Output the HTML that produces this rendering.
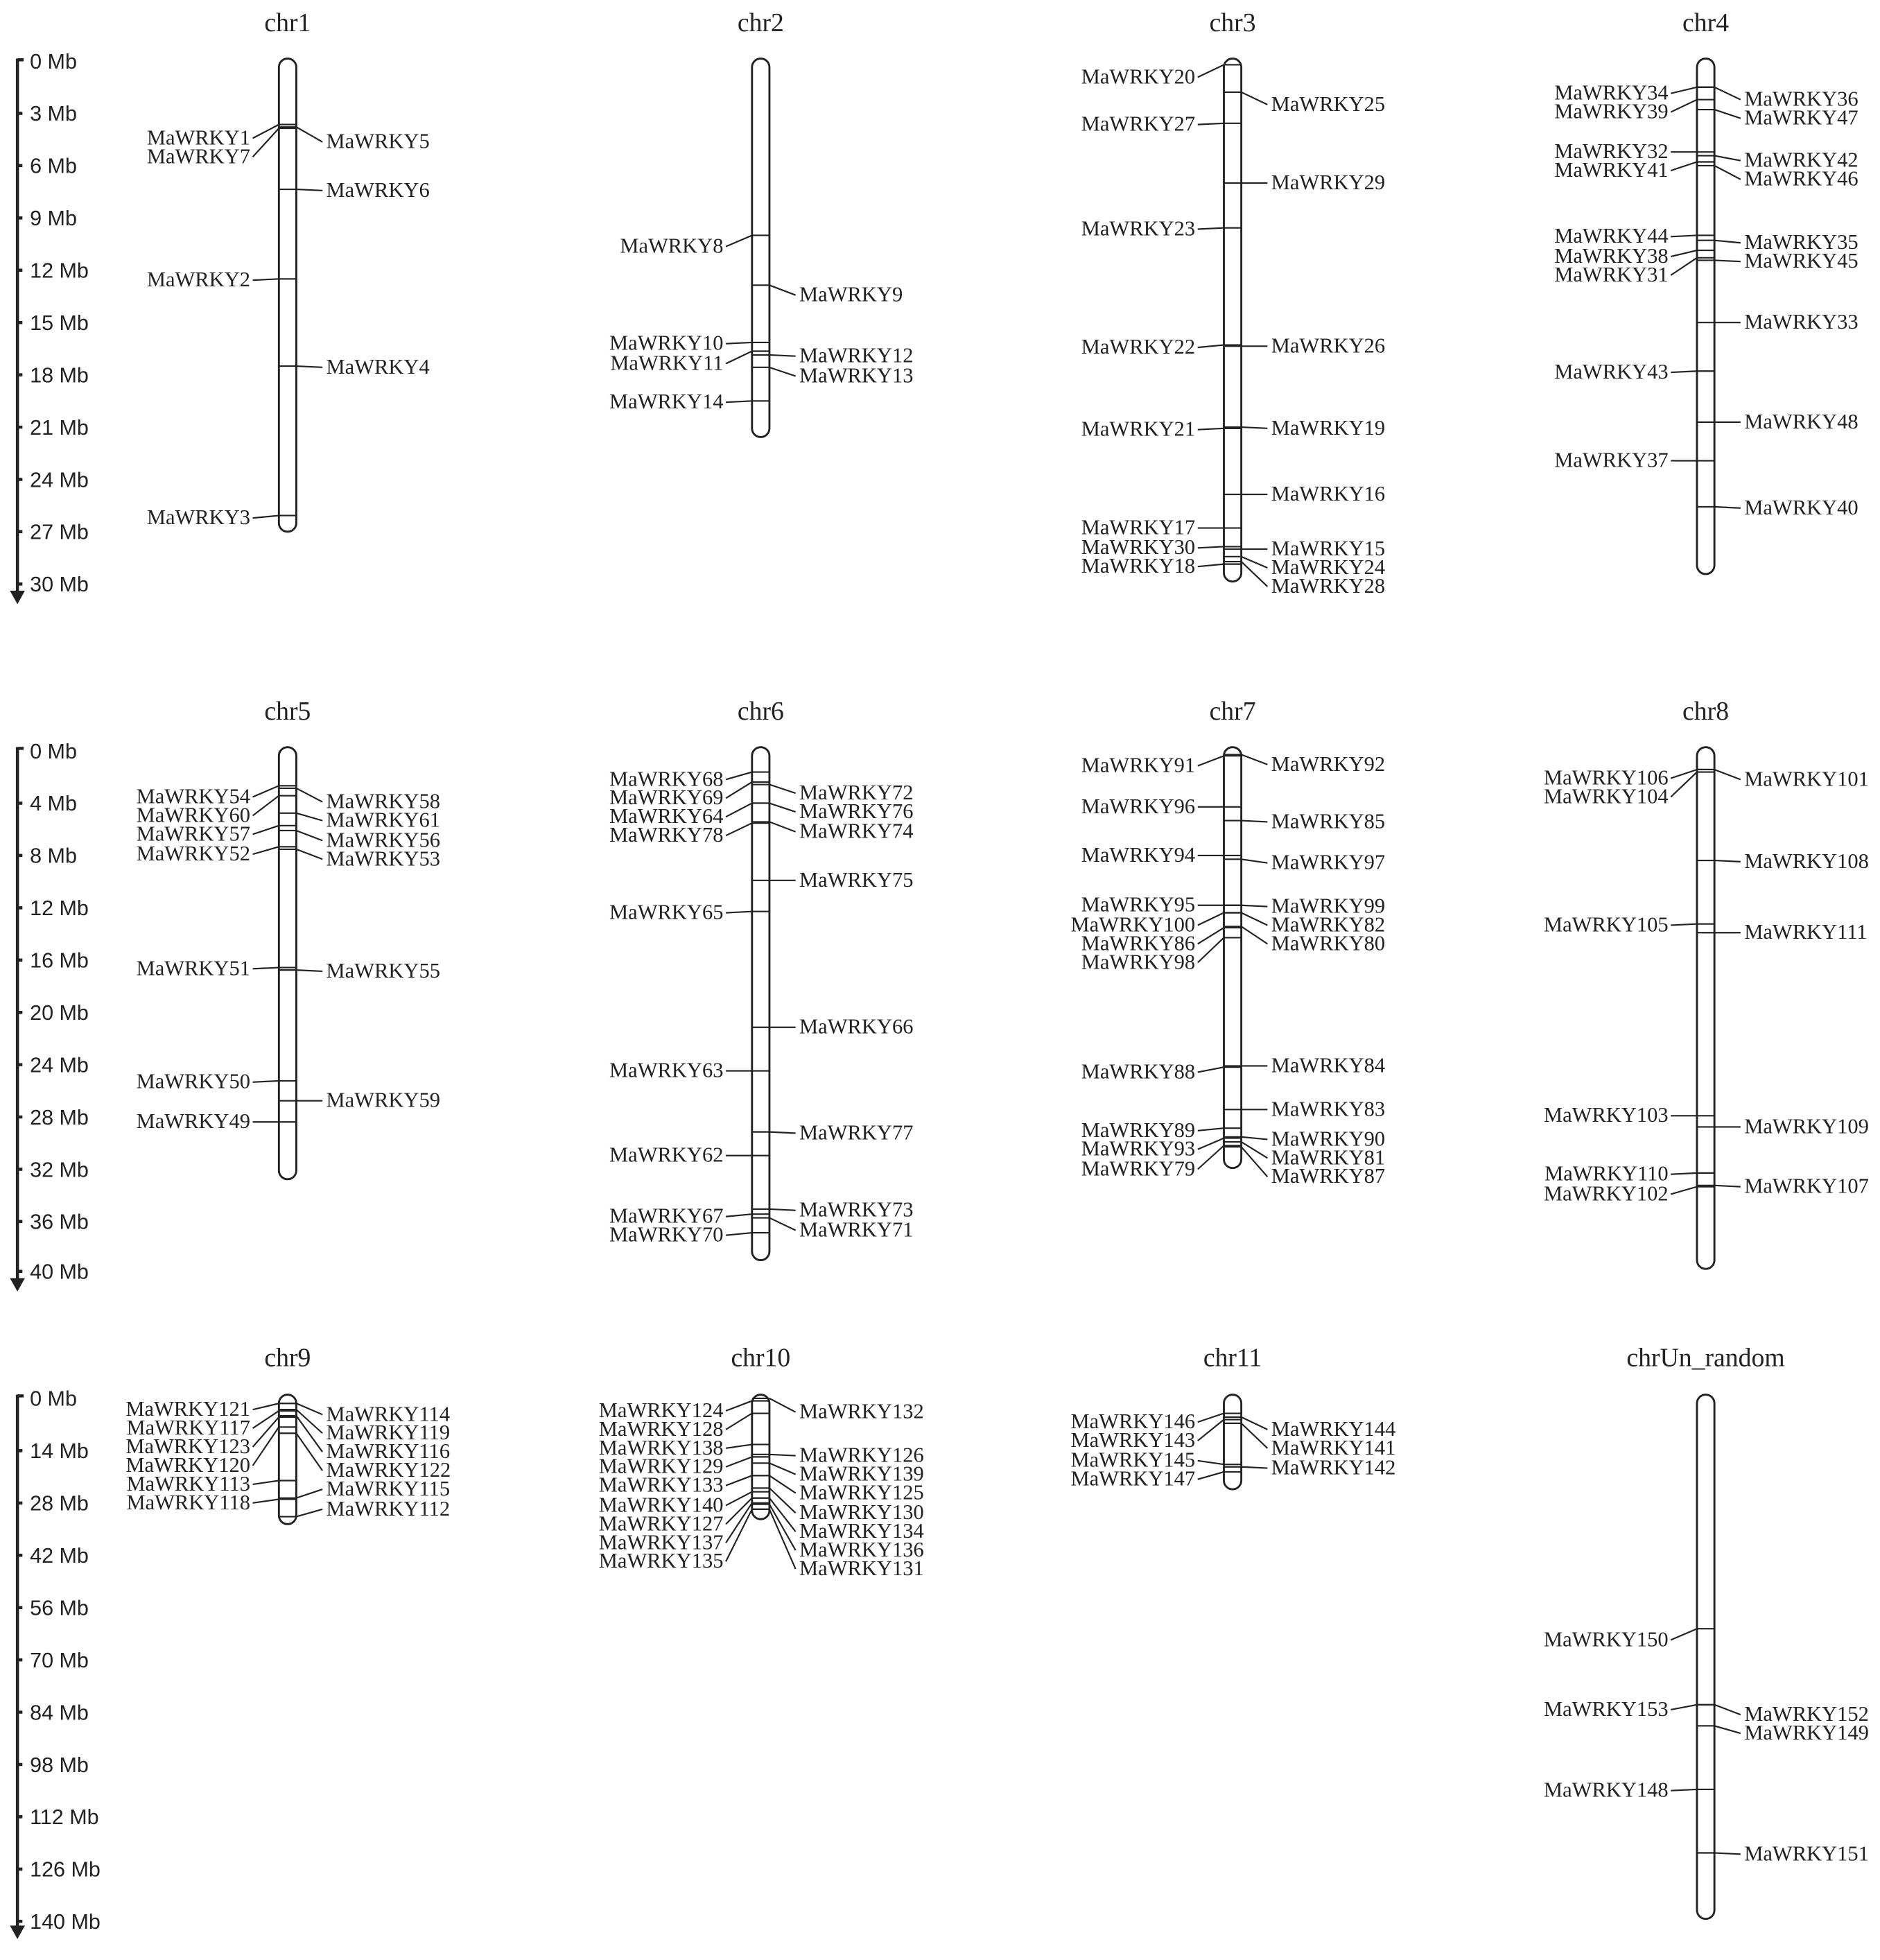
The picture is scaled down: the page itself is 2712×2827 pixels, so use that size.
<!DOCTYPE html>
<html><head><meta charset="utf-8"><style>
html,body{margin:0;padding:0;background:#fff}
svg{display:block}
text{font-family:"Liberation Serif",serif;font-size:17px;fill:#222}
text.l{text-anchor:end}
text.t{font-size:21px;text-anchor:middle}
text.s{font-family:"Liberation Sans",sans-serif;font-size:17px}
path,line,rect{stroke:#222;fill:none;stroke-width:1.2}
rect{stroke-width:1.6}
.ax{stroke-width:2.5}
</style></head><body>
<svg width="2712" height="2827" viewBox="0 0 1510 1574" xmlns="http://www.w3.org/2000/svg">
<g>
<path class="ax" d="M14 47V478M14 48H19"/><path d="M9 475L14 484L19 475Z" style="fill:#222"/>
<path class="ax" d="M14 91h4M14 133h4M14 175h4M14 217h4M14 259h4M14 301h4M14 343h4M14 385h4M14 427h4M14 469h4"/>
<text class="s" x="24" y="55">0 Mb</text><text class="s" x="24" y="97">3 Mb</text><text class="s" x="24" y="139">6 Mb</text><text class="s" x="24" y="181">9 Mb</text><text class="s" x="24" y="223">12 Mb</text><text class="s" x="24" y="265">15 Mb</text><text class="s" x="24" y="307">18 Mb</text><text class="s" x="24" y="349">21 Mb</text><text class="s" x="24" y="391">24 Mb</text><text class="s" x="24" y="433">27 Mb</text><text class="s" x="24" y="475">30 Mb</text>

<path class="ax" d="M14 600V1030M14 601H19"/><path d="M9 1027L14 1036L19 1027Z" style="fill:#222"/>
<path class="ax" d="M14 645h4M14 687h4M14 729h4M14 771h4M14 813h4M14 855h4M14 897h4M14 939h4M14 981h4M14 1021h4"/>
<text class="s" x="24" y="609">0 Mb</text><text class="s" x="24" y="651">4 Mb</text><text class="s" x="24" y="693">8 Mb</text><text class="s" x="24" y="735">12 Mb</text><text class="s" x="24" y="777">16 Mb</text><text class="s" x="24" y="819">20 Mb</text><text class="s" x="24" y="861">24 Mb</text><text class="s" x="24" y="903">28 Mb</text><text class="s" x="24" y="945">32 Mb</text><text class="s" x="24" y="987">36 Mb</text><text class="s" x="24" y="1027">40 Mb</text>

<path class="ax" d="M14 1120V1550M14 1121H19"/><path d="M9 1547L14 1556L19 1547Z" style="fill:#222"/>
<path class="ax" d="M14 1165h4M14 1207h4M14 1249h4M14 1291h4M14 1333h4M14 1375h4M14 1417h4M14 1459h4M14 1501h4M14 1543h4"/>
<text class="s" x="24" y="1129">0 Mb</text><text class="s" x="24" y="1171">14 Mb</text><text class="s" x="24" y="1213">28 Mb</text><text class="s" x="24" y="1255">42 Mb</text><text class="s" x="24" y="1297">56 Mb</text><text class="s" x="24" y="1339">70 Mb</text><text class="s" x="24" y="1381">84 Mb</text><text class="s" x="24" y="1423">98 Mb</text><text class="s" x="24" y="1465">112 Mb</text><text class="s" x="24" y="1507">126 Mb</text><text class="s" x="24" y="1549">140 Mb</text>
</g>

<text class="t" x="231" y="25">chr1</text><text class="t" x="611" y="25">chr2</text><text class="t" x="990" y="25">chr3</text><text class="t" x="1370" y="25">chr4</text>
<text class="t" x="231" y="578">chr5</text><text class="t" x="611" y="578">chr6</text><text class="t" x="990" y="578">chr7</text><text class="t" x="1370" y="578">chr8</text>
<text class="t" x="231" y="1097">chr9</text><text class="t" x="611" y="1097">chr10</text><text class="t" x="990" y="1097">chr11</text><text class="t" x="1370" y="1097">chrUn_random</text>

<rect x="224" y="47" width="14" height="380" rx="7"/>
<rect x="604" y="47" width="14" height="304" rx="7"/>
<rect x="983" y="47" width="14" height="420" rx="7"/>
<rect x="1363" y="47" width="14" height="414" rx="7"/>
<rect x="224" y="600" width="14" height="347" rx="7"/>
<rect x="604" y="600" width="14" height="412" rx="7"/>
<rect x="983" y="600" width="14" height="338" rx="7"/>
<rect x="1363" y="600" width="14" height="419" rx="7"/>
<rect x="224" y="1120" width="14" height="104" rx="7"/>
<rect x="604" y="1120" width="14" height="100" rx="7"/>
<rect x="983" y="1120" width="14" height="76" rx="7"/>
<rect x="1363" y="1120" width="14" height="421" rx="7"/>

<path d="M224 100h14M224 100L203 111"/><text class="l" x="201" y="116">MaWRKY1</text>
<path d="M224 103h14M224 103L203 126"/><text class="l" x="201" y="131">MaWRKY7</text>
<path d="M224 224h14M224 224L203 225"/><text class="l" x="201" y="230">MaWRKY2</text>
<path d="M224 414h14M224 414L203 416"/><text class="l" x="201" y="421">MaWRKY3</text>
<path d="M224 102h14M238 102L259 114"/><text x="262" y="119">MaWRKY5</text>
<path d="M224 152h14M238 152L259 153"/><text x="262" y="158">MaWRKY6</text>
<path d="M224 294h14M238 294L259 295"/><text x="262" y="300">MaWRKY4</text>

<path d="M604 189h14M604 189L583 198"/><text class="l" x="581" y="203">MaWRKY8</text>
<path d="M604 275h14M604 275L583 276"/><text class="l" x="581" y="281">MaWRKY10</text>
<path d="M604 282h14M604 282L583 292"/><text class="l" x="581" y="297">MaWRKY11</text>
<path d="M604 322h14M604 322L583 323"/><text class="l" x="581" y="328">MaWRKY14</text>
<path d="M604 229h14M618 229L639 237"/><text x="642" y="242">MaWRKY9</text>
<path d="M604 285h14M618 285L639 286"/><text x="642" y="291">MaWRKY12</text>
<path d="M604 295h14M618 295L639 302"/><text x="642" y="307">MaWRKY13</text>

<path d="M983 52h14M983 52L962 62"/><text class="l" x="960" y="67">MaWRKY20</text>
<path d="M983 99h14M983 99L962 100"/><text class="l" x="960" y="105">MaWRKY27</text>
<path d="M983 183h14M983 183L962 184"/><text class="l" x="960" y="189">MaWRKY23</text>
<path d="M983 277h14M983 277L962 279"/><text class="l" x="960" y="284">MaWRKY22</text>
<path d="M983 344h14M983 344L962 345"/><text class="l" x="960" y="350">MaWRKY21</text>
<path d="M983 424h14M983 424L962 424"/><text class="l" x="960" y="429">MaWRKY17</text>
<path d="M983 439h14M983 439L962 440"/><text class="l" x="960" y="445">MaWRKY30</text>
<path d="M983 453h14M983 453L962 455"/><text class="l" x="960" y="460">MaWRKY18</text>
<path d="M983 74h14M997 74L1018 84"/><text x="1021" y="89">MaWRKY25</text>
<path d="M983 147h14M997 147L1018 147"/><text x="1021" y="152">MaWRKY29</text>
<path d="M983 278h14M997 278L1018 278"/><text x="1021" y="283">MaWRKY26</text>
<path d="M983 343h14M997 343L1018 344"/><text x="1021" y="349">MaWRKY19</text>
<path d="M983 397h14M997 397L1018 397"/><text x="1021" y="402">MaWRKY16</text>
<path d="M983 441h14M997 441L1018 441"/><text x="1021" y="446">MaWRKY15</text>
<path d="M983 447h14M997 447L1018 456"/><text x="1021" y="461">MaWRKY24</text>
<path d="M983 451h14M997 451L1018 471"/><text x="1021" y="476">MaWRKY28</text>

<path d="M1363 70h14M1363 70L1342 75"/><text class="l" x="1340" y="80">MaWRKY34</text>
<path d="M1363 80h14M1363 80L1342 90"/><text class="l" x="1340" y="95">MaWRKY39</text>
<path d="M1363 122h14M1363 122L1342 122"/><text class="l" x="1340" y="127">MaWRKY32</text>
<path d="M1363 130h14M1363 130L1342 137"/><text class="l" x="1340" y="142">MaWRKY41</text>
<path d="M1363 189h14M1363 189L1342 190"/><text class="l" x="1340" y="195">MaWRKY44</text>
<path d="M1363 201h14M1363 201L1342 206"/><text class="l" x="1340" y="211">MaWRKY38</text>
<path d="M1363 207h14M1363 207L1342 221"/><text class="l" x="1340" y="226">MaWRKY31</text>
<path d="M1363 298h14M1363 298L1342 299"/><text class="l" x="1340" y="304">MaWRKY43</text>
<path d="M1363 370h14M1363 370L1342 370"/><text class="l" x="1340" y="375">MaWRKY37</text>
<path d="M1363 70h14M1377 70L1398 80"/><text x="1401" y="85">MaWRKY36</text>
<path d="M1363 88h14M1377 88L1398 95"/><text x="1401" y="100">MaWRKY47</text>
<path d="M1363 125h14M1377 125L1398 129"/><text x="1401" y="134">MaWRKY42</text>
<path d="M1363 133h14M1377 133L1398 144"/><text x="1401" y="149">MaWRKY46</text>
<path d="M1363 193h14M1377 193L1398 195"/><text x="1401" y="200">MaWRKY35</text>
<path d="M1363 209h14M1377 209L1398 210"/><text x="1401" y="215">MaWRKY45</text>
<path d="M1363 259h14M1377 259L1398 259"/><text x="1401" y="264">MaWRKY33</text>
<path d="M1363 339h14M1377 339L1398 339"/><text x="1401" y="344">MaWRKY48</text>
<path d="M1363 407h14M1377 407L1398 408"/><text x="1401" y="413">MaWRKY40</text>

<path d="M224 631h14M224 631L203 640"/><text class="l" x="201" y="645">MaWRKY54</text>
<path d="M224 639h14M224 639L203 655"/><text class="l" x="201" y="660">MaWRKY60</text>
<path d="M224 663h14M224 663L203 670"/><text class="l" x="201" y="675">MaWRKY57</text>
<path d="M224 680h14M224 680L203 686"/><text class="l" x="201" y="691">MaWRKY52</text>
<path d="M224 777h14M224 777L203 778"/><text class="l" x="201" y="783">MaWRKY51</text>
<path d="M224 868h14M224 868L203 869"/><text class="l" x="201" y="874">MaWRKY50</text>
<path d="M224 901h14M224 901L203 901"/><text class="l" x="201" y="906">MaWRKY49</text>
<path d="M224 633h14M238 633L259 644"/><text x="262" y="649">MaWRKY58</text>
<path d="M224 653h14M238 653L259 659"/><text x="262" y="664">MaWRKY61</text>
<path d="M224 667h14M238 667L259 675"/><text x="262" y="680">MaWRKY56</text>
<path d="M224 682h14M238 682L259 690"/><text x="262" y="695">MaWRKY53</text>
<path d="M224 779h14M238 779L259 780"/><text x="262" y="785">MaWRKY55</text>
<path d="M224 884h14M238 884L259 884"/><text x="262" y="889">MaWRKY59</text>

<path d="M604 620h14M604 620L583 626"/><text class="l" x="581" y="631">MaWRKY68</text>
<path d="M604 628h14M604 628L583 641"/><text class="l" x="581" y="646">MaWRKY69</text>
<path d="M604 645h14M604 645L583 656"/><text class="l" x="581" y="661">MaWRKY64</text>
<path d="M604 661h14M604 661L583 671"/><text class="l" x="581" y="676">MaWRKY78</text>
<path d="M604 732h14M604 732L583 733"/><text class="l" x="581" y="738">MaWRKY65</text>
<path d="M604 860h14M604 860L583 860"/><text class="l" x="581" y="865">MaWRKY63</text>
<path d="M604 928h14M604 928L583 928"/><text class="l" x="581" y="933">MaWRKY62</text>
<path d="M604 975h14M604 975L583 977"/><text class="l" x="581" y="982">MaWRKY67</text>
<path d="M604 990h14M604 990L583 992"/><text class="l" x="581" y="997">MaWRKY70</text>
<path d="M604 630h14M618 630L639 637"/><text x="642" y="642">MaWRKY72</text>
<path d="M604 645h14M618 645L639 652"/><text x="642" y="657">MaWRKY76</text>
<path d="M604 660h14M618 660L639 668"/><text x="642" y="673">MaWRKY74</text>
<path d="M604 707h14M618 707L639 707"/><text x="642" y="712">MaWRKY75</text>
<path d="M604 825h14M618 825L639 825"/><text x="642" y="830">MaWRKY66</text>
<path d="M604 909h14M618 909L639 910"/><text x="642" y="915">MaWRKY77</text>
<path d="M604 971h14M618 971L639 972"/><text x="642" y="977">MaWRKY73</text>
<path d="M604 978h14M618 978L639 988"/><text x="642" y="993">MaWRKY71</text>

<path d="M983 607h14M983 607L962 615"/><text class="l" x="960" y="620">MaWRKY91</text>
<path d="M983 648h14M983 648L962 648"/><text class="l" x="960" y="653">MaWRKY96</text>
<path d="M983 687h14M983 687L962 687"/><text class="l" x="960" y="692">MaWRKY94</text>
<path d="M983 727h14M983 727L962 727"/><text class="l" x="960" y="732">MaWRKY95</text>
<path d="M983 733h14M983 733L962 743"/><text class="l" x="960" y="748">MaWRKY100</text>
<path d="M983 745h14M983 745L962 758"/><text class="l" x="960" y="763">MaWRKY86</text>
<path d="M983 753h14M983 753L962 773"/><text class="l" x="960" y="778">MaWRKY98</text>
<path d="M983 857h14M983 857L962 861"/><text class="l" x="960" y="866">MaWRKY88</text>
<path d="M983 906h14M983 906L962 908"/><text class="l" x="960" y="913">MaWRKY89</text>
<path d="M983 914h14M983 914L962 923"/><text class="l" x="960" y="928">MaWRKY93</text>
<path d="M983 920h14M983 920L962 939"/><text class="l" x="960" y="944">MaWRKY79</text>
<path d="M983 606h14M997 606L1018 614"/><text x="1021" y="619">MaWRKY92</text>
<path d="M983 659h14M997 659L1018 660"/><text x="1021" y="665">MaWRKY85</text>
<path d="M983 690h14M997 690L1018 693"/><text x="1021" y="698">MaWRKY97</text>
<path d="M983 727h14M997 727L1018 728"/><text x="1021" y="733">MaWRKY99</text>
<path d="M983 733h14M997 733L1018 743"/><text x="1021" y="748">MaWRKY82</text>
<path d="M983 744h14M997 744L1018 758"/><text x="1021" y="763">MaWRKY80</text>
<path d="M983 856h14M997 856L1018 856"/><text x="1021" y="861">MaWRKY84</text>
<path d="M983 891h14M997 891L1018 891"/><text x="1021" y="896">MaWRKY83</text>
<path d="M983 913h14M997 913L1018 915"/><text x="1021" y="920">MaWRKY90</text>
<path d="M983 917h14M997 917L1018 930"/><text x="1021" y="935">MaWRKY81</text>
<path d="M983 921h14M997 921L1018 945"/><text x="1021" y="950">MaWRKY87</text>

<path d="M1363 618h14M1363 618L1342 625"/><text class="l" x="1340" y="630">MaWRKY106</text>
<path d="M1363 620h14M1363 620L1342 640"/><text class="l" x="1340" y="645">MaWRKY104</text>
<path d="M1363 742h14M1363 742L1342 743"/><text class="l" x="1340" y="748">MaWRKY105</text>
<path d="M1363 896h14M1363 896L1342 896"/><text class="l" x="1340" y="901">MaWRKY103</text>
<path d="M1363 942h14M1363 942L1342 943"/><text class="l" x="1340" y="948">MaWRKY110</text>
<path d="M1363 953h14M1363 953L1342 959"/><text class="l" x="1340" y="964">MaWRKY102</text>
<path d="M1363 618h14M1377 618L1398 626"/><text x="1401" y="631">MaWRKY101</text>
<path d="M1363 691h14M1377 691L1398 692"/><text x="1401" y="697">MaWRKY108</text>
<path d="M1363 749h14M1377 749L1398 749"/><text x="1401" y="754">MaWRKY111</text>
<path d="M1363 905h14M1377 905L1398 905"/><text x="1401" y="910">MaWRKY109</text>
<path d="M1363 952h14M1377 952L1398 953"/><text x="1401" y="958">MaWRKY107</text>

<path d="M224 1127h14M224 1127L203 1132"/><text class="l" x="201" y="1137">MaWRKY121</text>
<path d="M224 1133h14M224 1133L203 1147"/><text class="l" x="201" y="1152">MaWRKY117</text>
<path d="M224 1138h14M224 1138L203 1162"/><text class="l" x="201" y="1167">MaWRKY123</text>
<path d="M224 1146h14M224 1146L203 1177"/><text class="l" x="201" y="1182">MaWRKY120</text>
<path d="M224 1189h14M224 1189L203 1192"/><text class="l" x="201" y="1197">MaWRKY113</text>
<path d="M224 1204h14M224 1204L203 1207"/><text class="l" x="201" y="1212">MaWRKY118</text>
<path d="M224 1127h14M238 1127L259 1136"/><text x="262" y="1141">MaWRKY114</text>
<path d="M224 1132h14M238 1132L259 1151"/><text x="262" y="1156">MaWRKY119</text>
<path d="M224 1137h14M238 1137L259 1166"/><text x="262" y="1171">MaWRKY116</text>
<path d="M224 1151h14M238 1151L259 1181"/><text x="262" y="1186">MaWRKY122</text>
<path d="M224 1203h14M238 1203L259 1196"/><text x="262" y="1201">MaWRKY115</text>
<path d="M224 1218h14M238 1218L259 1212"/><text x="262" y="1217">MaWRKY112</text>

<path d="M604 1125h14M604 1125L583 1133"/><text class="l" x="581" y="1138">MaWRKY124</text>
<path d="M604 1135h14M604 1135L583 1148"/><text class="l" x="581" y="1153">MaWRKY128</text>
<path d="M604 1160h14M604 1160L583 1163"/><text class="l" x="581" y="1168">MaWRKY138</text>
<path d="M604 1170h14M604 1170L583 1178"/><text class="l" x="581" y="1183">MaWRKY129</text>
<path d="M604 1185h14M604 1185L583 1193"/><text class="l" x="581" y="1198">MaWRKY133</text>
<path d="M604 1198h14M604 1198L583 1209"/><text class="l" x="581" y="1214">MaWRKY140</text>
<path d="M604 1203h14M604 1203L583 1224"/><text class="l" x="581" y="1229">MaWRKY127</text>
<path d="M604 1207h14M604 1207L583 1239"/><text class="l" x="581" y="1244">MaWRKY137</text>
<path d="M604 1212h14M604 1212L583 1254"/><text class="l" x="581" y="1259">MaWRKY135</text>
<path d="M604 1123h14M618 1123L639 1134"/><text x="642" y="1139">MaWRKY132</text>
<path d="M604 1168h14M618 1168L639 1169"/><text x="642" y="1174">MaWRKY126</text>
<path d="M604 1175h14M618 1175L639 1184"/><text x="642" y="1189">MaWRKY139</text>
<path d="M604 1185h14M618 1185L639 1199"/><text x="642" y="1204">MaWRKY125</text>
<path d="M604 1195h14M618 1195L639 1215"/><text x="642" y="1220">MaWRKY130</text>
<path d="M604 1203h14M618 1203L639 1230"/><text x="642" y="1235">MaWRKY134</text>
<path d="M604 1208h14M618 1208L639 1245"/><text x="642" y="1250">MaWRKY136</text>
<path d="M604 1212h14M618 1212L639 1260"/><text x="642" y="1265">MaWRKY131</text>

<path d="M983 1135h14M983 1135L962 1142"/><text class="l" x="960" y="1147">MaWRKY146</text>
<path d="M983 1140h14M983 1140L962 1157"/><text class="l" x="960" y="1162">MaWRKY143</text>
<path d="M983 1176h14M983 1176L962 1173"/><text class="l" x="960" y="1178">MaWRKY145</text>
<path d="M983 1182h14M983 1182L962 1188"/><text class="l" x="960" y="1193">MaWRKY147</text>
<path d="M983 1138h14M997 1138L1018 1148"/><text x="1021" y="1153">MaWRKY144</text>
<path d="M983 1143h14M997 1143L1018 1163"/><text x="1021" y="1168">MaWRKY141</text>
<path d="M983 1178h14M997 1178L1018 1179"/><text x="1021" y="1184">MaWRKY142</text>

<path d="M1363 1308h14M1363 1308L1342 1317"/><text class="l" x="1340" y="1322">MaWRKY150</text>
<path d="M1363 1369h14M1363 1369L1342 1373"/><text class="l" x="1340" y="1378">MaWRKY153</text>
<path d="M1363 1437h14M1363 1437L1342 1438"/><text class="l" x="1340" y="1443">MaWRKY148</text>
<path d="M1363 1369h14M1377 1369L1398 1377"/><text x="1401" y="1382">MaWRKY152</text>
<path d="M1363 1386h14M1377 1386L1398 1392"/><text x="1401" y="1397">MaWRKY149</text>
<path d="M1363 1488h14M1377 1488L1398 1489"/><text x="1401" y="1494">MaWRKY151</text>
</svg>
</body></html>
